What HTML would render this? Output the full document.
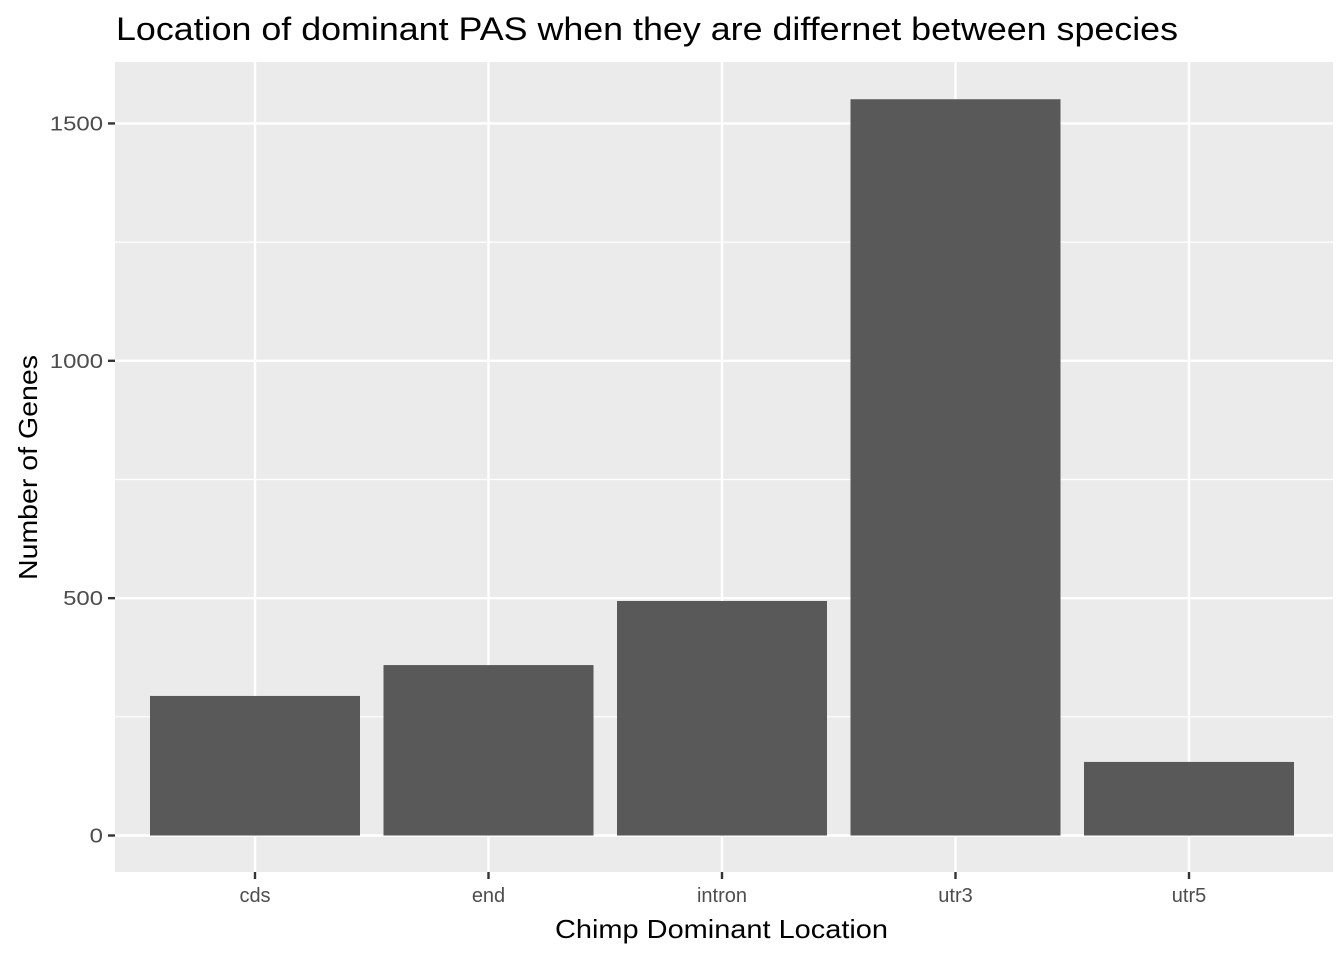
<!DOCTYPE html>
<html><head><meta charset="utf-8"><style>
body{margin:0;background:#fff;}
svg text{font-family:"Liberation Sans",sans-serif;}
</style></head><body>
<svg id="chart" width="1344" height="960" xmlns="http://www.w3.org/2000/svg">
<text x="116" y="40" font-size="32" textLength="1062" lengthAdjust="spacingAndGlyphs" fill="#000">Location of dominant PAS when they are differnet between species</text>
<rect x="115" y="62" width="1218" height="810" fill="#ebebeb"/>
<g id="grid"></g><g id="bars"></g><g id="axes"></g>
<text x="555" y="938" font-size="26" textLength="333" lengthAdjust="spacingAndGlyphs" fill="#000">Chimp Dominant Location</text>
<text transform="translate(37,580) rotate(-90)" font-size="26" textLength="225" lengthAdjust="spacingAndGlyphs" fill="#000">Number of Genes</text>
</svg>
<script>
const categories=["cds","end","intron","utr3","utr5"];
const values=[294,359,494,1551,155];
const yTicks=[0,500,1000,1500];
const yMinor=[250,750,1250];
const NS="http://www.w3.org/2000/svg";
const y=v=>835.5-v*0.4747;
const x=i=>255+i*233.5;
const bw=210;
function mk(t,a,p){const e=document.createElementNS(NS,t);for(const k in a)e.setAttribute(k,a[k]);p.appendChild(e);return e;}
const g=document.getElementById('grid'),b=document.getElementById('bars'),ax=document.getElementById('axes');
yMinor.forEach(v=>{const l=mk('line',{x1:115,x2:1333,y1:y(v),y2:y(v),stroke:'#fff','stroke-width':1.2},g);

});
yTicks.forEach(v=>{const l=mk('line',{x1:115,x2:1333,y1:y(v),y2:y(v),stroke:'#fff','stroke-width':2.4},g);


const t=mk('line',{x1:108,x2:115,y1:y(v),y2:y(v),stroke:'#333','stroke-width':2.4},ax);


const tx=mk('text',{x:103,y:y(v)+7,'font-size':20,'text-anchor':'end',fill:'#4d4d4d',textLength:String(v).length*13.3,lengthAdjust:'spacingAndGlyphs'},ax);tx.textContent=v;

});
categories.forEach((c,i)=>{const l=mk('line',{x1:x(i),x2:x(i),y1:62,y2:872,stroke:'#fff','stroke-width':2.4},g);


const r=mk('rect',{x:x(i)-bw/2,y:y(values[i]),width:bw,height:y(0)-y(values[i]),fill:'#595959'},b);


const t=mk('line',{x1:x(i),x2:x(i),y1:872,y2:879,stroke:'#333','stroke-width':2.4},ax);


const tx=mk('text',{x:x(i),y:902,'font-size':20,'text-anchor':'middle',fill:'#4d4d4d'},ax);tx.textContent=c;

});
</script>
</body></html>
